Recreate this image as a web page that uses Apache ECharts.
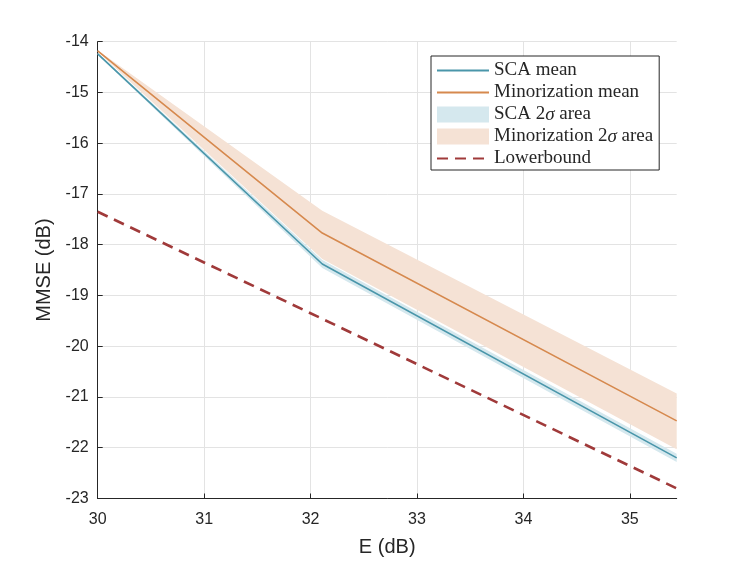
<!DOCTYPE html>
<html>
<head>
<meta charset="utf-8">
<script src="https://cdn.jsdelivr.net/npm/echarts@6/dist/echarts.min.js"></script>
<style>html,body{margin:0;padding:0;background:#fff}#c{width:747px;height:561px}</style>
</head>
<body>
<div id="c"></div>
<script>
// E (dB) sample points
const E = [30, 32.11, 35.44];
// SCA
const scaMean  = [-14.24, -18.38, -22.20];
const scaUpper = [-14.22, -18.30, -22.12];
const scaLower = [-14.26, -18.46, -22.28];
// Minorization
const minMean  = [-14.18, -17.77, -21.47];
const minUpper = [-14.17, -17.33, -20.93];
const minLower = [-14.20, -18.28, -22.03];
// Lower bound
const lowerBound = [-17.35, -19.46, -22.80];
// ticks
const xTicks = [30, 31, 32, 33, 34, 35];
const yTicks = [-23, -22, -21, -20, -19, -18, -17, -16, -15, -14];

const pairs = (ys) => E.map((x, i) => [x, ys[i]]);

const C = {
  sca: '#4a96aa', scaBand: '#d5e8ee',
  min: '#d6894e', minBand: '#f5e2d5',
  lb: '#a03a3a', text: '#262626', grid: '#e3e3e3'
};

function bandSeries(name, lower, upper, color) {
  return {
    name: name, type: 'custom', coordinateSystem: 'cartesian2d', silent: true, clip: true,
    data: E.map((x, i) => [x, lower[i], upper[i]]),
    encode: {x: 0, y: [1, 2]},
    itemStyle: {color: color},
    renderItem: (params, api) => {
      if (params.dataIndex !== 0) return null;
      const pts = [];
      for (let i = 0; i < E.length; i++) pts.push(api.coord([E[i], upper[i]]));
      for (let i = E.length - 1; i >= 0; i--) pts.push(api.coord([E[i], lower[i]]));
      return {type: 'polygon', shape: {points: pts}, style: {fill: color, stroke: null}};
    }
  };
}

const chart = echarts.init(document.getElementById('c'), null, {renderer: 'canvas'});
const serif = 'Liberation Serif';
const sans = 'Liberation Sans';
const lineEntry = (name) => ({name: name, itemStyle: {opacity: 0}});

chart.setOption({
  animation: false,
  backgroundColor: '#fff',
  grid: {left: 97.7, right: 70.3, top: 41.7, bottom: 62.5, containLabel: false, outerBoundsMode: 'none'},
  legend: {
    orient: 'vertical', left: 431, top: 56,
    backgroundColor: '#fff', borderColor: C.text, borderWidth: 1,
    padding: [5, 6, 2, 5],
    itemWidth: 52, itemHeight: 16, itemGap: 3,
    textStyle: {
      fontFamily: serif, fontSize: 19, color: C.text,
      rich: {
        n: {fontFamily: serif, fontSize: 19, color: C.text},
        i: {fontFamily: serif, fontSize: 19, color: C.text, fontStyle: 'italic'}
      }
    },
    formatter: (name) => {
      const idx = name.indexOf('σ');
      if (idx < 0) return '{n|' + name + '}';
      return '{n|' + name.slice(0, idx) + '}{i|σ}{n|' + name.slice(idx + 1) + '}';
    },
    data: [
      lineEntry('SCA mean'),
      lineEntry('Minorization mean'),
      {name: 'SCA 2σ area', icon: 'rect'},
      {name: 'Minorization 2σ area', icon: 'rect'},
      lineEntry('Lowerbound')
    ]
  },
  xAxis: {
    type: 'value', min: 30, max: 35.44, interval: 1,
    name: 'E (dB)', nameLocation: 'middle', nameGap: 39,
    nameTextStyle: {fontFamily: sans, fontSize: 20, color: C.text},
    axisLine: {show: true, lineStyle: {color: C.text, width: 1}},
    axisTick: {show: true, inside: true, length: 5, lineStyle: {color: C.text}},
    axisLabel: {
      fontFamily: sans, fontSize: 16, color: C.text, margin: 13, showMaxLabel: false,
      formatter: (v) => xTicks.includes(v) ? String(v) : ''
    },
    splitLine: {show: true, showMaxLine: false, lineStyle: {color: C.grid, width: 1}}
  },
  yAxis: {
    type: 'value', min: yTicks[0], max: yTicks[yTicks.length - 1], interval: 1,
    name: 'MMSE (dB)', nameLocation: 'middle', nameGap: 35, nameRotate: 90,
    nameTextStyle: {fontFamily: sans, fontSize: 20, color: C.text},
    axisLine: {show: true, lineStyle: {color: C.text, width: 1}},
    axisTick: {show: true, inside: true, length: 5, lineStyle: {color: C.text}},
    axisLabel: {fontFamily: sans, fontSize: 16, color: C.text, margin: 9},
    splitLine: {show: true, lineStyle: {color: C.grid, width: 1}}
  },
  series: [
    bandSeries('SCA 2σ area', scaLower, scaUpper, C.scaBand),
    bandSeries('Minorization 2σ area', minLower, minUpper, C.minBand),
    {
      name: 'SCA mean', type: 'line', data: pairs(scaMean), symbol: 'none',
      color: C.sca, itemStyle: {color: C.sca}, lineStyle: {color: C.sca, width: 1.6}
    },
    {
      name: 'Minorization mean', type: 'line', data: pairs(minMean), symbol: 'none',
      color: C.min, itemStyle: {color: C.min}, lineStyle: {color: C.min, width: 1.6}
    },
    {
      name: 'Lowerbound', type: 'line', data: pairs(lowerBound), symbol: 'none',
      color: C.lb, itemStyle: {color: C.lb},
      lineStyle: {color: C.lb, width: 2.6, type: [11, 7]}
    }
  ]
});
</script>
</body>
</html>
